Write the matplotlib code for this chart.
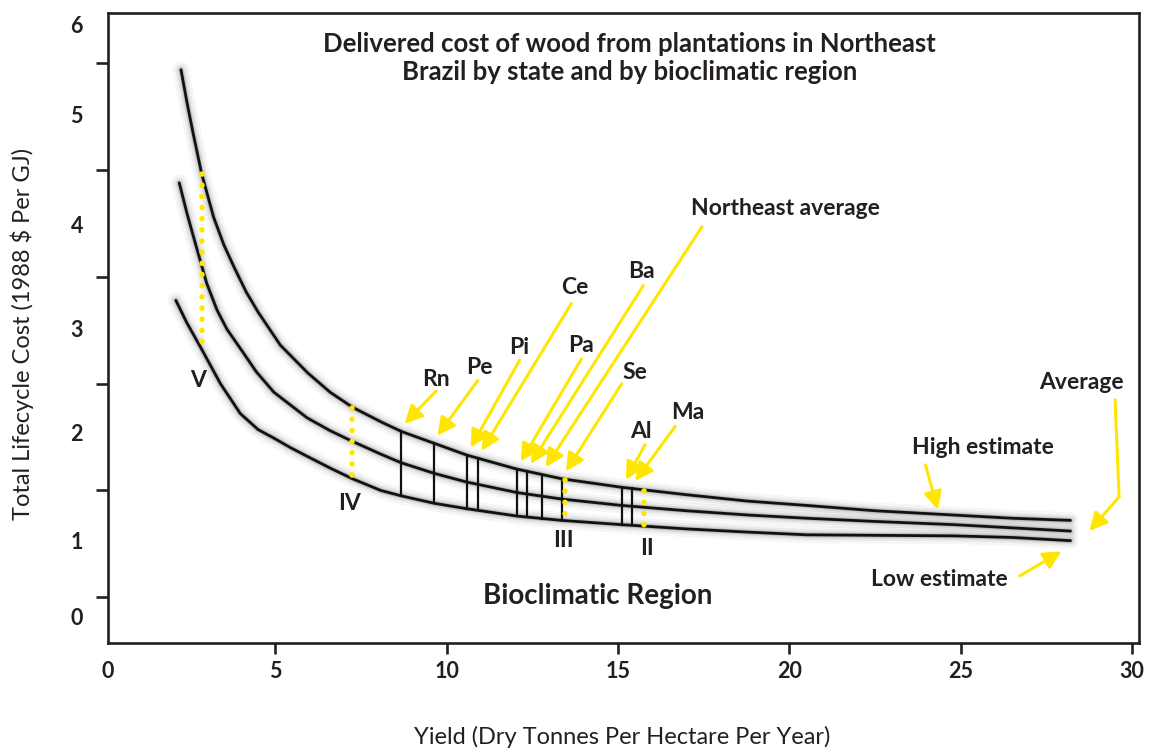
import numpy as np
import matplotlib
matplotlib.use("Agg")
import matplotlib.pyplot as plt

# ---------------- data ----------------
high_x = [2.25, 2.42, 2.6, 2.85, 3.2, 3.5, 3.8, 4.15, 4.5, 5.15, 5.95, 6.6, 7.25, 8.1,
          8.7, 9.65, 10.6, 12.05, 13.35, 15.1, 17.0, 18.8, 20.5, 22.5, 24.8, 26.5, 28.2]
high_y = [5.44, 5.14, 4.85, 4.47, 4.06, 3.80, 3.59, 3.36, 3.17, 2.86, 2.60, 2.42, 2.28, 2.14,
          2.05, 1.94, 1.83, 1.70, 1.61, 1.53, 1.46, 1.40, 1.36, 1.31, 1.27, 1.24, 1.22]

avg_x = [2.2, 2.42, 2.61, 2.84, 3.0, 3.3, 3.59, 3.98, 4.45, 4.96, 5.93, 6.6, 7.25, 8.08,
         8.67, 9.64, 10.57, 12.06, 13.35, 15.1, 17.0, 18.8, 20.5, 22.5, 24.8, 26.5, 28.2]
avg_y = [4.38, 4.10, 3.88, 3.62, 3.44, 3.19, 3.01, 2.83, 2.61, 2.42, 2.18, 2.06, 1.96, 1.84,
         1.76, 1.66, 1.58, 1.48, 1.42, 1.36, 1.31, 1.27, 1.24, 1.21, 1.18, 1.15, 1.12]

low_x = [2.1, 2.42, 2.84, 3.4, 3.98, 4.5, 4.96, 5.45, 5.93, 6.6, 7.25, 8.08, 8.67, 9.64,
         10.57, 12.06, 13.35, 15.1, 17.0, 18.8, 20.5, 22.5, 24.8, 26.5, 28.2]
low_y = [3.28, 3.07, 2.83, 2.50, 2.22, 2.07, 1.99, 1.90, 1.82, 1.71, 1.61, 1.50, 1.45, 1.38,
         1.33, 1.26, 1.22, 1.18, 1.14, 1.11, 1.085, 1.08, 1.075, 1.06, 1.03]

state_names = ["Rn", "Pe", "Pi", "Ce", "Pa", "Ba", "Northeast average", "Se", "Al", "Ma"]
state_yield = [8.67, 9.63, 10.6, 10.92, 12.06, 12.35, 12.79, 13.38, 15.13, 15.4]

region_names = ["V", "IV", "III", "II"]
region_yield = [2.85, 7.25, 13.45, 15.77]

x_ticks = [5, 10, 15, 20, 25, 30]
y_labels = ["0", "1", "2", "3", "4", "5", "6"]

# ---------------- layout ----------------
state_text_pos = [(9.69, 2.54), (10.95, 2.65), (12.12, 2.84), (13.73, 3.40),
                  (13.91, 2.86), (15.69, 3.55), (19.88, 4.14), (15.49, 2.60),
                  (15.66, 2.05), (17.04, 2.23)]
state_tail_pos = [(9.69, 2.43), (10.91, 2.53), (12.13, 2.72), (13.64, 3.25),
                  (13.93, 2.73), (15.74, 3.42), (17.45, 3.97), (15.11, 2.50),
                  (15.79, 1.93), (16.67, 2.10)]
region_text_pos = [(2.75, 2.53), (7.17, 1.38), (13.41, 1.03), (15.84, 0.96)]

INK = "#231f20"
YEL = "#FFE600"
FAM = ["Lato", "DejaVu Sans"]

plt.rcParams["font.family"] = FAM

fig = plt.figure(figsize=(11.52, 7.49), dpi=100)
ax = fig.add_axes([108 / 1152, 1 - 643.3 / 749, (1139 - 108) / 1152, (643.3 - 13.3) / 749])
ax.set_xlim(0.12, 30.2)
ax.set_ylim(0.069, 5.968)


def curve(xs, ys):
    for lw, a in [(12, 0.035), (8, 0.05), (5, 0.08), (3.2, 0.12)]:
        ax.plot(xs, ys, color="black", lw=lw, alpha=a, solid_capstyle="round",
                solid_joinstyle="round", zorder=2)
    ax.plot(xs, ys, color="#111111", lw=2.0, solid_capstyle="round",
            solid_joinstyle="round", zorder=3)


curve(high_x, high_y)
curve(avg_x, avg_y)
curve(low_x, low_y)


def hi(x):
    return float(np.interp(x, high_x, high_y))


def lo(x):
    return float(np.interp(x, low_x, low_y))


# state vertical lines
for x in state_yield:
    ax.plot([x, x], [hi(x), lo(x)], color="#111111", lw=1.6, zorder=4)

# bioclimatic region dotted lines
for x, name, (tx, ty) in zip(region_yield, region_names, region_text_pos):
    ax.plot([x, x], [hi(x) - 0.01, lo(x) + 0.01], color=YEL, lw=4.0,
            linestyle=(0, (0.01, 2.0)), dash_capstyle="round", zorder=5)
    ax.text(tx, ty, name, ha="center", va="center", fontsize=16.5,
            fontweight="bold", color=INK, zorder=6)

arrow_kw = dict(arrowstyle="-|>,head_length=0.6,head_width=0.3", color=YEL, lw=2.2,
                mutation_scale=18, shrinkA=0, shrinkB=0)

# state labels and arrows
for x, name, (tx, ty), tail in zip(state_yield, state_names, state_text_pos, state_tail_pos):
    ax.text(tx, ty, name, ha="center", va="center", fontsize=16.5,
            fontweight="bold", color=INK, zorder=6)
    tip = (x + 0.1, hi(x) + 0.07)
    ax.annotate("", xy=tip, xytext=tail, arrowprops=arrow_kw, zorder=6)

# curve labels
ax.text(25.64, 1.90, "High estimate", ha="center", va="center", fontsize=16.5,
        fontweight="bold", color=INK)
ax.annotate("", xy=(24.33, 1.32), xytext=(23.97, 1.74), arrowprops=arrow_kw)
ax.text(24.39, 0.67, "Low estimate", ha="center", va="center", fontsize=16.5,
        fontweight="bold", color=INK)
ax.annotate("", xy=(27.94, 0.93), xytext=(26.72, 0.70), arrowprops=arrow_kw)
ax.text(28.51, 2.51, "Average", ha="center", va="center", fontsize=16.5,
        fontweight="bold", color=INK)
ax.plot([29.50, 29.62], [2.36, 1.44], color=YEL, lw=2.2, solid_capstyle="butt")
ax.annotate("", xy=(28.75, 1.12), xytext=(29.62, 1.44), arrowprops=arrow_kw)

ax.text(14.40, 0.51, "Bioclimatic Region", ha="center", va="center", fontsize=20,
        fontweight="bold", color=INK)

ax.text(15.34, 5.55, "Delivered cost of wood from plantations in Northeast\n"
        "Brazil by state and by bioclimatic region", ha="center", va="center",
        fontsize=18.5, fontweight="bold", color=INK, linespacing=1.22)

# axes styling
for s in ax.spines.values():
    s.set_linewidth(1.9)
    s.set_color(INK)

ax.set_xticks(x_ticks)
ax.set_xticklabels([str(t) for t in x_ticks])
ax.set_xticks([0.12], minor=True)
ax.set_xticklabels(["0"], minor=True)
ax.tick_params(axis="x", which="major", direction="out", length=8, width=1.9,
               color=INK, labelsize=15.5, pad=5, labelcolor=INK)
ax.tick_params(axis="x", which="minor", length=0, labelsize=15.5, pad=13, labelcolor=INK)

ax.set_yticks([0.5, 1.5, 2.5, 3.5, 4.5, 5.5])
ax.set_yticklabels([])
ax.set_yticks([0.32, 1.03, 2.04, 3.02, 3.99, 5.02, 5.86], minor=True)
ax.set_yticklabels(y_labels, minor=True)
ax.tick_params(axis="y", which="major", direction="out", length=9, width=1.9, color=INK)
ax.tick_params(axis="y", which="minor", length=0, labelsize=15.5, pad=18, labelcolor=INK)

for lab in ax.get_xticklabels(which="both") + ax.get_yticklabels(which="both"):
    lab.set_fontweight("bold")

fig.text(22 / 1152, 1 - 334 / 749, "Total Lifecycle Cost (1988 $ Per GJ)", rotation=90,
         ha="center", va="center", fontsize=17, fontweight="normal", color=INK)
fig.text(622 / 1152, 1 - 737 / 749, "Yield (Dry Tonnes Per Hectare Per Year)",
         ha="center", va="center", fontsize=17, fontweight="normal", color=INK)

fig.savefig("out.png", dpi=100)
